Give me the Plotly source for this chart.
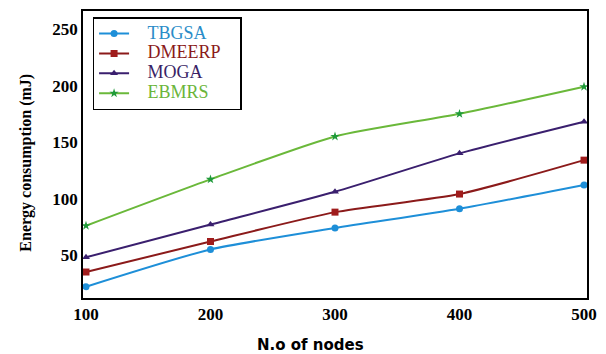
import plotly.graph_objects as go

# Number of nodes and energy consumption (mJ) per protocol
nodes = [100, 200, 300, 400, 500]
tbgsa = [22, 55, 74, 91, 112]
dmeerp = [35, 62, 88, 104, 134]
moga = [48, 77, 106, 140, 168]
ebmrs = [76, 117, 155, 175, 199]
y_ticks = [50, 100, 150, 200, 250]

# name, values, line colour, marker colour, marker symbol, legend text colour
series = [
    ("TBGSA", tbgsa, "#1e8fd8", "#1e8fd8", "circle", "#2a8cc8"),
    ("DMEERP", dmeerp, "#8b1a1a", "#a01c1c", "square", "#8b1a1a"),
    ("MOGA", moga, "#3a1f6e", "#3a1f6e", "triangle-up", "#3a1f66"),
    ("EBMRS", ebmrs, "#6ab83a", "#1f9a3a", "star", "#6bb53a"),
]

serif = "Liberation Serif, Times New Roman, serif"

fig = go.Figure()
for name, vals, lc, mc, sym, tc in series:
    fig.add_trace(go.Scatter(
        x=nodes, y=vals, mode="lines+markers",
        name=f'<span style="color:{tc};font-size:18px">&nbsp;&nbsp;&nbsp;{name}&nbsp;&nbsp;&nbsp;</span>',
        line=dict(color=lc, width=2, shape="spline", smoothing=0.6),
        marker=dict(symbol=sym, size=7, color=mc),
    ))

fig.update_layout(
    width=606, height=354,
    margin=dict(l=83, r=9, t=9, b=56),
    paper_bgcolor="white", plot_bgcolor="white",
    showlegend=True,
    legend=dict(
        x=0.019, y=0.979, xanchor="left", yanchor="top",
        bgcolor="white", bordercolor="black", borderwidth=1.5,
        font=dict(family=serif, size=13, color="black"),
        itemwidth=30, tracegroupgap=0,
    ),
    xaxis=dict(
        range=[97.6, 502.4], tickvals=nodes, ticks="",
        showgrid=False, zeroline=False,
        showline=True, linecolor="black", linewidth=1.5, mirror=True,
        tickfont=dict(family=serif, size=17, color="black", weight="bold"),
    ),
    yaxis=dict(
        range=[12, 266], tickvals=y_ticks, ticks="",
        showgrid=False, zeroline=False,
        showline=True, linecolor="black", linewidth=1.5, mirror=True,
        tickfont=dict(family=serif, size=17, color="black", weight="bold"),
    ),
    annotations=[
        dict(
            text="<b>N.o of nodes</b>", xref="paper", yref="paper",
            x=0.452, y=-0.125, xanchor="center", yanchor="top", showarrow=False,
            font=dict(family="DejaVu Sans, Verdana, sans-serif", size=15, color="black"),
        ),
        dict(
            text="<b>Energy consumption (mJ)</b>", xref="paper", yref="paper",
            x=-0.112, y=0.47, xanchor="center", yanchor="middle", showarrow=False,
            textangle=-90,
            font=dict(family=serif, size=16, color="black"),
        ),
    ],
)

fig.write_html("out.html")
